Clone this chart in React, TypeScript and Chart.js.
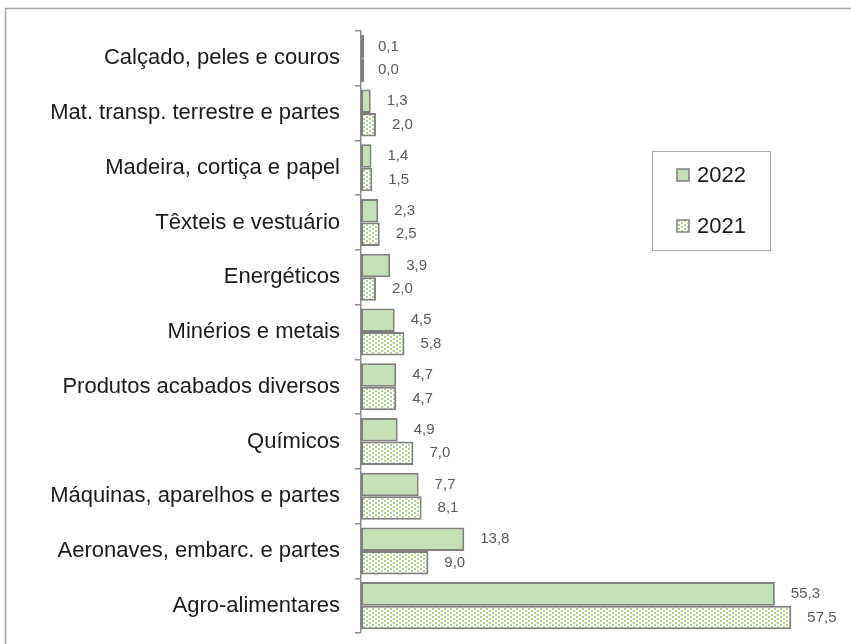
import React, { useEffect, useRef } from "react";
import { Chart, registerables } from "chart.js";

Chart.register(...registerables);

const categories = [
  "Calçado, peles e couros",
  "Mat. transp. terrestre e partes",
  "Madeira, cortiça e papel",
  "Têxteis e vestuário",
  "Energéticos",
  "Minérios e metais",
  "Produtos acabados diversos",
  "Químicos",
  "Máquinas, aparelhos e partes",
  "Aeronaves, embarc. e partes",
  "Agro-alimentares",
];
const values2022 = [0.1, 1.3, 1.4, 2.3, 3.9, 4.5, 4.7, 4.9, 7.7, 13.8, 55.3];
const values2021 = [0.0, 2.0, 1.5, 2.5, 2.0, 5.8, 4.7, 7.0, 8.1, 9.0, 57.5];
const seriesNames = ["2022", "2021"];

const FONT = "'Liberation Sans', Arial, sans-serif";
const GREEN = "#c5e0b4";
const DOT = "#a9d18e";
const BORDER = "#7f7f7f";

function makePattern(): CanvasPattern | string {
  const c = document.createElement("canvas");
  c.width = 6;
  c.height = 4;
  const ctx = c.getContext("2d");
  if (!ctx) return GREEN;
  ctx.fillStyle = "#ffffff";
  ctx.fillRect(0, 0, 6, 4);
  ctx.fillStyle = DOT;
  ctx.fillRect(0, 0, 2, 2);
  ctx.fillRect(3, 2, 2, 2);
  return ctx.createPattern(c, "repeat") || GREEN;
}

export default function App() {
  const ref = useRef<HTMLCanvasElement | null>(null);

  useEffect(() => {
    if (!ref.current) return;
    const pattern = makePattern();

    const framePlugin = {
      id: "frame",
      beforeDraw(chart: any) {
        const ctx = chart.ctx;
        ctx.save();
        ctx.fillStyle = "#ffffff";
        ctx.fillRect(0, 0, chart.width, chart.height);
        ctx.strokeStyle = "#a6a6a6";
        ctx.lineWidth = 1.5;
        ctx.strokeRect(5.5, 8.5, chart.width + 20, chart.height + 20);
        ctx.restore();
      },
    };

    const labelPlugin = {
      id: "valueLabels",
      afterDatasetsDraw(chart: any) {
        const ctx = chart.ctx;
        const xs = chart.scales.x;
        ctx.save();
        ctx.font = `15px ${FONT}`;
        ctx.fillStyle = "#595959";
        ctx.textAlign = "left";
        ctx.textBaseline = "middle";
        chart.data.datasets.forEach((ds: any, di: number) => {
          const meta = chart.getDatasetMeta(di);
          meta.data.forEach((el: any, i: number) => {
            const v = ds.data[i] as number;
            const px = Math.max(xs.getPixelForValue(v), xs.left + 1);
            ctx.fillText(v.toFixed(1).replace(".", ","), px + 16, el.y);
          });
        });
        ctx.restore();
      },
    };

    const legendPlugin = {
      id: "boxLegend",
      afterDraw(chart: any) {
        const ctx = chart.ctx;
        ctx.save();
        ctx.fillStyle = "#ffffff";
        ctx.fillRect(652.5, 151.5, 118, 99);
        ctx.strokeStyle = "#a6a6a6";
        ctx.lineWidth = 1;
        ctx.strokeRect(652.5, 151.5, 118, 99);
        const ys = [175, 226];
        const fills = [GREEN, pattern];
        seriesNames.forEach((name, i) => {
          ctx.fillStyle = fills[i];
          ctx.fillRect(677, ys[i] - 6, 12, 12);
          ctx.strokeStyle = BORDER;
          ctx.lineWidth = 1.5;
          ctx.strokeRect(677, ys[i] - 6, 12, 12);
          ctx.fillStyle = "#1a1a1a";
          ctx.font = `22px ${FONT}`;
          ctx.textAlign = "left";
          ctx.textBaseline = "middle";
          ctx.fillText(name, 697, ys[i] + 1);
        });
        ctx.restore();
      },
    };

    const chart = new Chart(ref.current, {
      type: "bar",
      data: {
        labels: categories,
        datasets: [
          {
            label: seriesNames[0],
            data: values2022,
            backgroundColor: GREEN,
            borderColor: BORDER,
            borderWidth: 2,
            borderSkipped: false,
            minBarLength: 3,
            categoryPercentage: 0.86,
            barPercentage: 1,
          },
          {
            label: seriesNames[1],
            data: values2021,
            backgroundColor: pattern as any,
            borderColor: BORDER,
            borderWidth: 2,
            borderSkipped: false,
            minBarLength: 3,
            categoryPercentage: 0.86,
            barPercentage: 1,
          },
        ],
      },
      options: {
        indexAxis: "y",
        responsive: false,
        animation: false,
        layout: { padding: { left: 0, right: 41, top: 31, bottom: 11 } },
        plugins: {
          legend: { display: false },
          tooltip: { enabled: false },
          title: { display: false },
        },
        scales: {
          x: {
            display: false,
            min: 0,
            max: 60,
          },
          y: {
            type: "category",
            afterFit(scale: any) {
              scale.width = 361;
              scale.paddingTop = 0;
              scale.paddingBottom = 0;
            },
            grid: {
              display: true,
              drawOnChartArea: false,
              drawTicks: true,
              tickLength: 6,
              offset: true,
              color: "#8c8c8c",
              lineWidth: 1.5,
            },
            border: { display: true, color: "#8c8c8c", width: 1.5 },
            ticks: {
              padding: 15,
              color: "#1a1a1a",
              font: { family: FONT, size: 22 },
            },
          },
        },
      },
      plugins: [framePlugin, labelPlugin, legendPlugin],
    });

    return () => chart.destroy();
  }, []);

  return (
    <div style={{ position: "fixed", left: 0, top: 0, width: 851, height: 644 }}>
      <canvas ref={ref} width={851} height={644} style={{ display: "block" }} />
    </div>
  );
}
